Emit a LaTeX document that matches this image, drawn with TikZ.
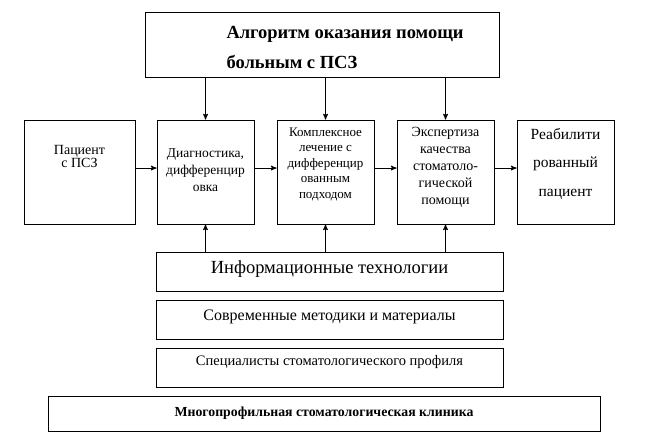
\documentclass[tikz,border=0pt]{standalone}
\usepackage{fontspec}
\setmainfont{Liberation Serif}
\usepackage{tikz}
\usetikzlibrary{positioning, arrows}
\tikzset{
>=stealth', % arrow heads like the scheme
node distance=120pt, % distance between the centres of the middle boxes
box/.style={draw, line width=1pt, minimum width=97pt, minimum height=104pt}, % middle row
bar/.style={draw, line width=1pt, minimum width=347pt, minimum height=39pt}, % lower rows
txt/.style={align=center, inner sep=0pt}, % texts inside the boxes
}

\begin{document}
\begin{tikzpicture}[x=1pt, y=-1pt, line width=1pt]
    \useasboundingbox (0,0) rectangle (651,432);

    % top box
    \node[draw, minimum width=354pt, minimum height=65pt] (algo) at (322,44.5) {};
    \node[txt, align=left, anchor=west, font=\fontsize{18.5}{30}\selectfont\bfseries] (algo-t) at (226,47)
        {Алгоритм оказания помощи\\больным с ПСЗ};

    % middle row
    \node[box] (diag) at (205.5,172) {};
    \node[box, minimum width=111pt, left of=diag, node distance=126pt] (pac) {};
    \node[box, right of=diag] (lech) {};
    \node[box, right of=lech] (eksp) {};
    \node[box, right of=eksp] (reab) {};

    \node[txt, font=\fontsize{14}{13.5}\selectfont] (pac-t) at ([yshift=15.5pt]pac.center) {Пациент\\с ПСЗ};
    \node[txt, font=\fontsize{13.5}{17}\selectfont] (diag-t) at ([yshift=2pt]diag.center) {Диагностика,\\дифференцир\\овка};
    \node[txt, font=\fontsize{13}{15.5}\selectfont] (lech-t) at ([yshift=8pt]lech.center) {Комплексное\\лечение с\\дифференцир\\ованным\\подходом};
    \node[txt, font=\fontsize{14}{17}\selectfont] (eksp-t) at ([yshift=4.5pt]eksp.center) {Экспертиза\\качества\\стоматоло-\\гической\\помощи};
    \node[txt, font=\fontsize{15.5}{28.5}\selectfont] (reab-t) at ([yshift=8.5pt]reab.center) {Реабилити\\рованный\\пациент};

    % lower rows
    \node[bar] (info) at (329.5,271.5) {};
    \node[bar, below of=info, node distance=48pt] (metod) {};
    \node[bar, below of=metod, node distance=48pt] (spec) {};
    \node[draw, minimum width=552pt, minimum height=35pt] (klin) at (324,413.5) {};

    \node[txt, font=\fontsize{18.5}{20}\selectfont] (info-t) at ([yshift=2.5pt]info.center) {Информационные технологии};
    \node[txt, font=\fontsize{16}{17}\selectfont] (metod-t) at ([yshift=2.5pt]metod.center) {Современные методики и материалы};
    \node[txt, font=\fontsize{14.5}{17}\selectfont] (spec-t) at ([yshift=5.5pt]spec.center) {Специалисты стоматологического профиля};
    \node[txt, font=\fontsize{13.8}{16}\selectfont\bfseries] (klin-t) at (klin.center) {Многопрофильная стоматологическая клиника};

    % arrows
    \draw[->] ([yshift=4pt]pac.east) -- ([yshift=4pt]diag.west);
    \draw[->] ([yshift=4pt]diag.east) -- ([yshift=4pt]lech.west);
    \draw[->] ([yshift=4pt]lech.east) -- ([yshift=4pt]eksp.west);
    \draw[->] ([yshift=4pt]eksp.east) -- ([yshift=4pt]reab.west);

    \foreach \b in {diag, lech, eksp} {
        \draw[->] (\b |- algo.south) -- (\b.north);
        \draw[->] (\b |- info.north) -- (\b.south);
    }

\end{tikzpicture}
\end{document}
